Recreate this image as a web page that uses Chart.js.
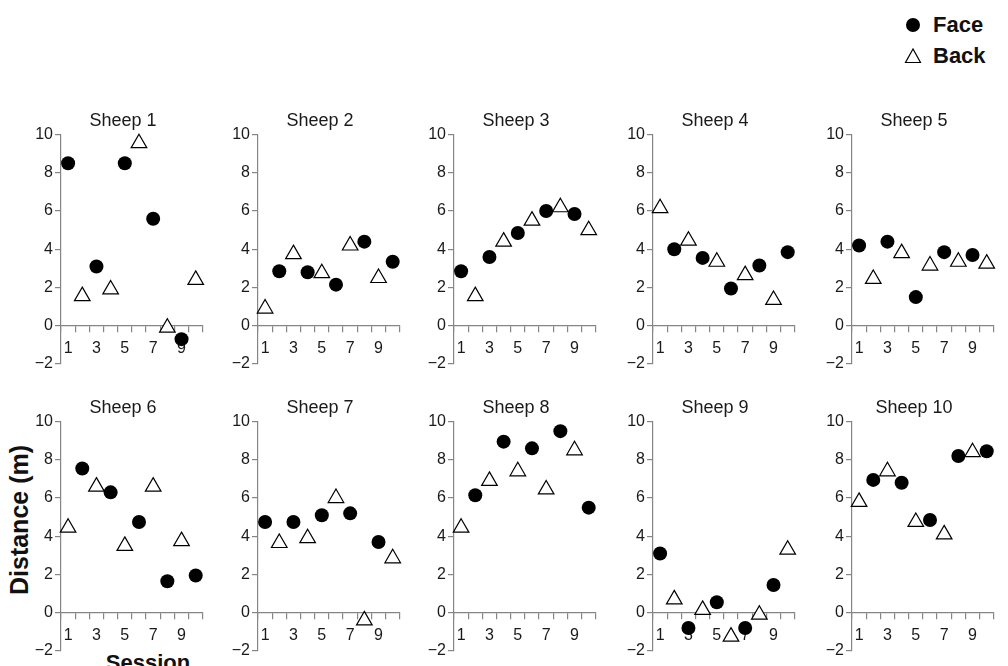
<!DOCTYPE html>
<html>
<head>
<meta charset="utf-8">
<script src="https://cdn.jsdelivr.net/npm/chart.js@4.4.1/dist/chart.umd.min.js"></script>
<style>
  body { margin: 0; background: #fff; font-family: "Liberation Sans", Arial, sans-serif; }
  #page { position: relative; width: 1008px; height: 666px; overflow: hidden; }
  canvas { position: absolute; }
  .lbl { position: absolute; font-weight: bold; color: #111; white-space: nowrap; }
  .legend { position: absolute; left: 904px; font-size: 22px; font-weight: bold; color: #111; }
  .legend div { position: absolute; left: 0; height: 26px; line-height: 26px; white-space: nowrap; }
  .legend svg { position: absolute; left: 0; top: 4px; }
  .legend span { position: absolute; left: 29px; }
</style>
</head>
<body>
<div id="page">
  <div class="legend">
    <div style="top:12px"><svg width="18" height="18"><circle cx="9" cy="9" r="7" fill="#000"/></svg><span>Face</span></div>
    <div style="top:43px"><svg width="18" height="18"><polygon points="9,2 1.5,15.5 16.5,15.5" fill="#fff" stroke="#000" stroke-width="1.2"/></svg><span>Back</span></div>
  </div>
  <div class="lbl" id="ylab" style="font-size:25px; left:19px; top:520px; transform: translate(-50%,-50%) rotate(-90deg);">Distance (m)</div>
  <div class="lbl" style="font-size:22px; left:148px; top:663px; transform: translate(-50%,-50%);">Session</div>
</div>
<script>
// Session labels on the x axis
const sessions = ['1', '2', '3', '4', '5', '6', '7', '8', '9', '10'];
const sheepNames = ['Sheep 1', 'Sheep 2', 'Sheep 3', 'Sheep 4', 'Sheep 5',
                    'Sheep 6', 'Sheep 7', 'Sheep 8', 'Sheep 9', 'Sheep 10'];
const yTicks = [-2, 0, 2, 4, 6, 8, 10];

// distance (m) per session, null = not tested in that orientation
const face1 = [8.5, null, 3.1, null, 8.5, null, 5.6, null, -0.7, null];
const back1 = [null, 1.55, null, 1.9, null, 9.55, null, -0.1, null, 2.4];
const face2 = [null, 2.85, null, 2.8, null, 2.15, null, 4.4, null, 3.35];
const back2 = [0.9, null, 3.75, null, 2.75, null, 4.2, null, 2.5, null];
const face3 = [2.85, null, 3.6, null, 4.85, null, 6.0, null, 5.85, null];
const back3 = [null, 1.55, null, 4.4, null, 5.5, null, 6.2, null, 5.0];
const face4 = [null, 4.0, null, 3.55, null, 1.95, null, 3.15, null, 3.85];
const back4 = [6.15, null, 4.45, null, 3.35, null, 2.65, null, 1.35, null];
const face5 = [4.2, null, 4.4, null, 1.5, null, 3.85, null, 3.7, null];
const back5 = [null, 2.45, null, 3.8, null, 3.15, null, 3.35, null, 3.25];
const face6 = [null, 7.55, null, 6.3, null, 4.75, null, 1.65, null, 1.95];
const back6 = [4.45, null, 6.6, null, 3.5, null, 6.6, null, 3.75, null];
const face7 = [4.75, null, 4.75, null, 5.1, null, 5.2, null, 3.7, null];
const back7 = [null, 3.65, null, 3.9, null, 6.0, null, -0.4, null, 2.85];
const face8 = [null, 6.15, null, 8.95, null, 8.6, null, 9.5, null, 5.5];
const back8 = [4.45, null, 6.9, null, 7.4, null, 6.45, null, 8.5, null];
const face9 = [3.1, null, -0.8, null, 0.55, null, -0.8, null, 1.45, null];
const back9 = [null, 0.7, null, 0.15, null, -1.25, null, -0.1, null, 3.3];
const face10 = [null, 6.95, null, 6.8, null, 4.85, null, 8.2, null, 8.45];
const back10 = [5.8, null, 7.4, null, 4.75, null, 4.1, null, 8.4, null];

const faceData = [face1, face2, face3, face4, face5, face6, face7, face8, face9, face10];
const backData = [back1, back2, back3, back4, back5, back6, back7, back8, back9, back10];

const FONT = '"Liberation Sans", Arial, sans-serif';
const axisGray = '#858585';
const textCol = '#1a1a1a';

// y axis pixel position of each column, panel top for each row
const colX = [61, 258, 454, 653, 852];
const rowTop = [110, 397];

function drawSheep(i) {
    const canvas = document.createElement('canvas');
    canvas.width = 180;
    canvas.height = 266;
    canvas.style.left = (colX[i % 5] - 28) + 'px';
    canvas.style.top = rowTop[Math.floor(i / 5)] + 'px';
    document.getElementById('page').appendChild(canvas);

    new Chart(canvas, {
        type: 'line',
        data: {
            labels: sessions,
            datasets: [{
                label: 'Face',
                data: faceData[i],
                showLine: false,
                pointStyle: 'circle',
                pointRadius: 7,
                pointBackgroundColor: '#000',
                pointBorderColor: '#000',
                pointBorderWidth: 0,
                clip: false
            }, {
                label: 'Back',
                data: backData[i],
                showLine: false,
                pointStyle: 'triangle',
                pointRadius: 9,
                pointBackgroundColor: '#fff',
                pointBorderColor: '#000',
                pointBorderWidth: 1.2,
                clip: false
            }]
        },
        options: {
            responsive: false,
            animation: false,
            layout: { padding: { bottom: 12 } },
            plugins: {
                legend: { display: false },
                tooltip: { enabled: false },
                title: {
                    display: true,
                    text: sheepNames[i],
                    color: textCol,
                    font: { family: FONT, size: 18, weight: 'normal' },
                    padding: { top: 0, bottom: 3 }
                }
            },
            scales: {
                x: {
                    type: 'category',
                    offset: true,
                    position: { y: 0 },
                    grid: { offset: true, drawOnChartArea: false, tickLength: 6, color: axisGray, lineWidth: 1.2 },
                    border: { color: axisGray, width: 1.2 },
                    ticks: {
                        autoSkip: false,
                        maxRotation: 0,
                        padding: 7,
                        color: textCol,
                        font: { family: FONT, size: 16 },
                        callback: (v, idx) => idx % 2 === 0 ? sessions[idx] : ''
                    },
                    afterFit: s => { s.paddingLeft = 0; s.paddingRight = 0; }
                },
                y: {
                    min: -2,
                    max: 10,
                    afterBuildTicks: s => { s.ticks = yTicks.map(v => ({ value: v })); },
                    grid: { drawOnChartArea: false, tickLength: 6, color: axisGray, lineWidth: 1.2 },
                    border: { color: axisGray, width: 1.2 },
                    ticks: {
                        padding: 2,
                        color: textCol,
                        font: { family: FONT, size: 16 },
                        callback: v => String(v).replace('-', '\u2212')
                    },
                    afterFit: s => { s.width = 28; s.paddingTop = 0; s.paddingBottom = 0; }
                }
            }
        }
    });
}

for (let i = 0; i < 10; i++) drawSheep(i);
</script>
</body>
</html>
